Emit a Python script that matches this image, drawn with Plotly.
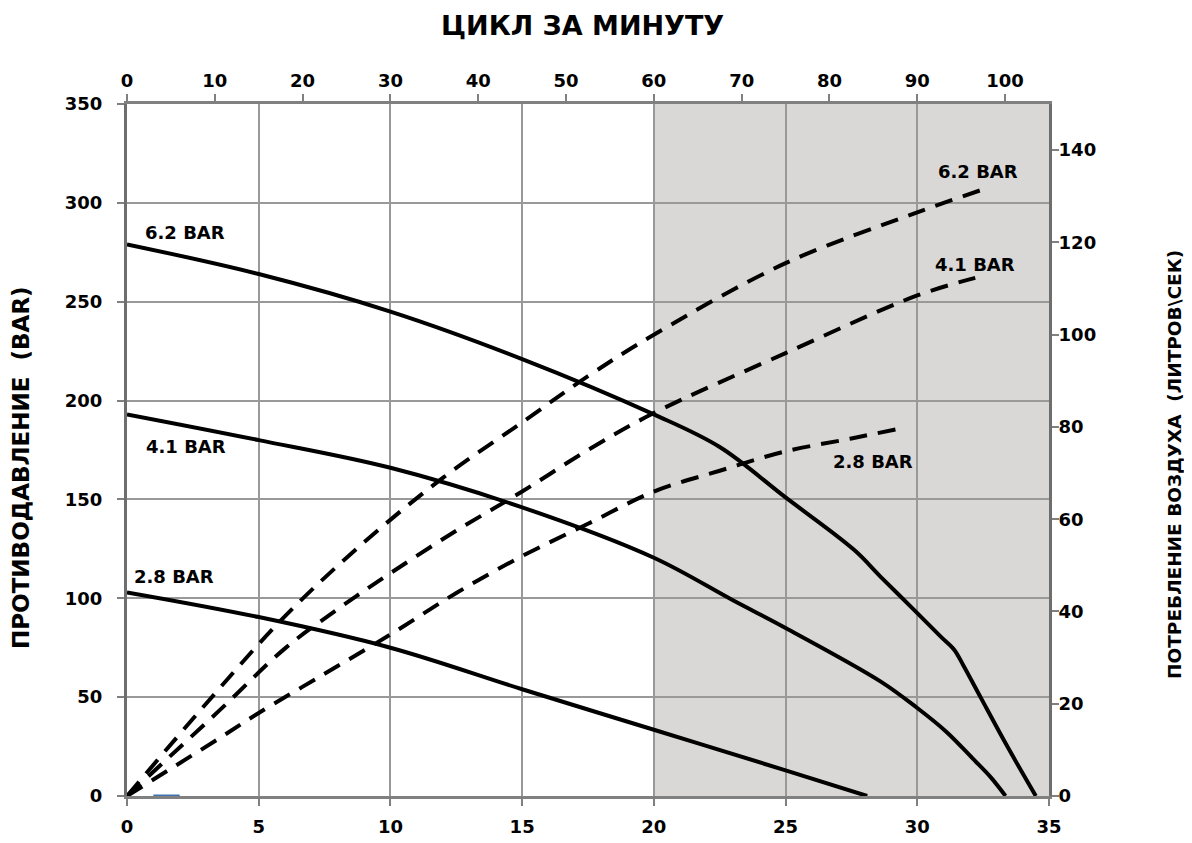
import plotly.graph_objects as go

# ---- data (bottom axis: flow, left axis: back pressure BAR, right axis: air l/s) ----
flow_62 = [0, 5, 10, 15, 20, 22.5, 25, 27.6, 28.6, 30, 30.9, 31.4, 31.75, 32.4, 33.4, 34.5]
pres_62 = [279, 264, 245, 221, 193, 176.5, 151, 124.5, 111, 92.5, 80.5, 74, 66, 50, 25.5, 0]

flow_41 = [0, 5, 10, 15, 20, 23, 25, 28.6, 30, 31.1, 32.1, 32.8, 33.35]
pres_41 = [193, 180, 166, 146, 120.5, 99, 85, 58, 44.5, 32.5, 19, 9.3, 0]

flow_28 = [0, 5, 10, 15, 20, 25, 28.1]
pres_28 = [103, 90.5, 75, 54, 33.5, 13, 0]

air_flow_62 = [0, 3, 6, 9, 12, 15, 17.5, 20, 25, 30, 32.5]
air_62 = [0, 20, 39, 55, 69, 81, 91, 100, 115.5, 126.5, 131.5]

air_flow_41 = [0, 3.5, 6, 8, 10, 12.5, 15, 17.5, 20, 25, 30, 32.2]
air_41 = [0, 18.5, 32, 40.5, 48.3, 57.5, 66, 75, 83, 96, 108.5, 112.3]

air_flow_28 = [0, 3.5, 5, 7.5, 10, 12.5, 15, 17.5, 20, 22.5, 25, 27.5, 29.3]
air_28 = [0, 12.5, 18, 26.5, 35, 44, 52, 59, 66, 70.5, 74.7, 77.5, 79.6]

stray_x = [1, 2]
stray_y = [0, 0]

bottom_ticks = [0, 5, 10, 15, 20, 25, 30, 35]
top_ticks = [0, 10, 20, 30, 40, 50, 60, 70, 80, 90, 100]
left_ticks = [0, 50, 100, 150, 200, 250, 300, 350]
right_ticks = [0, 20, 40, 60, 80, 100, 120, 140]

shade_from, shade_to = 20, 35

labels = [  # text, x, y, axis ('l' left / 'r' right)
    ("6.2 BAR", 2.2, 285, "l"),
    ("4.1 BAR", 2.24, 177, "l"),
    ("2.8 BAR", 1.8, 110.8, "l"),
    ("6.2 BAR", 32.3, 135.3, "r"),
    ("4.1 BAR", 32.2, 115.3, "r"),
    ("2.8 BAR", 28.3, 72.6, "r"),
]

FONT = "DejaVu Sans"
BLACK = "#000000"
GRID = "#999999"
AXIS = "#808080"

# page has an 8px body margin; the figure fills the window from there
W, H = 1184, 835
ML, MT, PW, PH = 119, 96, 922, 692

fig = go.Figure()

dash = "18px,11px"
for fx, ay in [(air_flow_62, air_62), (air_flow_41, air_41), (air_flow_28, air_28)]:
    fig.add_trace(go.Scatter(x=fx, y=ay, mode="lines", yaxis="y2",
                             line=dict(color=BLACK, width=4, dash=dash, shape="spline", smoothing=1.0),
                             hoverinfo="skip", showlegend=False))

for fx, py_ in [(flow_62, pres_62), (flow_41, pres_41), (flow_28, pres_28)]:
    fig.add_trace(go.Scatter(x=fx, y=py_, mode="lines",
                             line=dict(color=BLACK, width=4, shape="spline", smoothing=1.0),
                             hoverinfo="skip", showlegend=False))

fig.add_trace(go.Scatter(x=stray_x, y=stray_y, mode="lines",
                         line=dict(color="#3f73b0", width=3), cliponaxis=False,
                         hoverinfo="skip", showlegend=False))

# invisible trace to activate top axis
fig.add_trace(go.Scatter(x=[0], y=[0], xaxis="x2", mode="markers",
                         marker=dict(opacity=0), hoverinfo="skip", showlegend=False))

fig.add_shape(type="rect", xref="x", yref="paper", x0=shade_from, x1=shade_to, y0=0, y1=1,
              fillcolor="#d9d8d7", line=dict(width=0), layer="below")

for text, x, y, ax in labels:
    fig.add_annotation(x=x, y=y, xref="x", yref="y" if ax == "l" else "y2", text=text,
                       showarrow=False, font=dict(family=FONT, size=18, color=BLACK, weight="bold"))

tickfont = dict(family=FONT, size=18, color=BLACK, weight="bold")

common = dict(zeroline=False, showline=True, linewidth=3, ticks="outside", ticklen=7,
              tickcolor=AXIS, tickwidth=1.5, tickfont=tickfont, layer="below traces",
              automargin=False)

fig.update_layout(
    width=W, height=H, autosize=False,
    margin=dict(l=ML, r=W - ML - PW, t=MT, b=H - MT - PH, autoexpand=False),
    paper_bgcolor="white", plot_bgcolor="white",
    xaxis=dict(range=[0, 35], tickvals=bottom_ticks, showgrid=True, gridcolor=GRID, gridwidth=1.5,
               linecolor=AXIS, ticklabelstandoff=5, **common),
    xaxis2=dict(range=[0, 105], tickvals=top_ticks, overlaying="x", side="top", showgrid=False,
                linecolor=AXIS, **common),
    yaxis=dict(range=[0, 350], tickvals=left_ticks, showgrid=True, gridcolor=GRID, gridwidth=1.5,
               linecolor="#6e6e6e", ticklabelstandoff=11, **common),
    yaxis2=dict(range=[0, 150], tickvals=right_ticks, overlaying="y", side="right", showgrid=False,
                linecolor="#6e6e6e", ticklabelstandoff=-4, **common),
)

# axis titles and top title (positions given in page pixels, minus the 8px body margin)
def py(page_y):
    return (MT + PH - (page_y - 8)) / PH

def px(page_x):
    return (page_x - 8 - ML) / PW

fig.add_annotation(x=px(21), y=py(468), xref="paper", yref="paper", textangle=-90,
                   text="ПРОТИВОДАВЛЕНИЕ  (BAR)", showarrow=False,
                   font=dict(family=FONT, size=23, color=BLACK, weight="bold"),
                   xanchor="center", yanchor="middle")
fig.add_annotation(x=px(1174), y=py(465), xref="paper", yref="paper", textangle=-90,
                   text="ПОТРЕБЛЕНИЕ ВОЗДУХА  (ЛИТРОВ\\СЕК)", showarrow=False,
                   font=dict(family=FONT, size=18.5, color=BLACK, weight="bold"),
                   xanchor="center", yanchor="middle")
fig.add_annotation(x=px(582), y=1 + MT / PH, xref="paper", yref="paper",
                   text="ЦИКЛ ЗА МИНУТУ", showarrow=False, xanchor="center", yanchor="top",
                   font=dict(family=FONT, size=27, color=BLACK, weight="bold"))

fig.write_html("out.html")
